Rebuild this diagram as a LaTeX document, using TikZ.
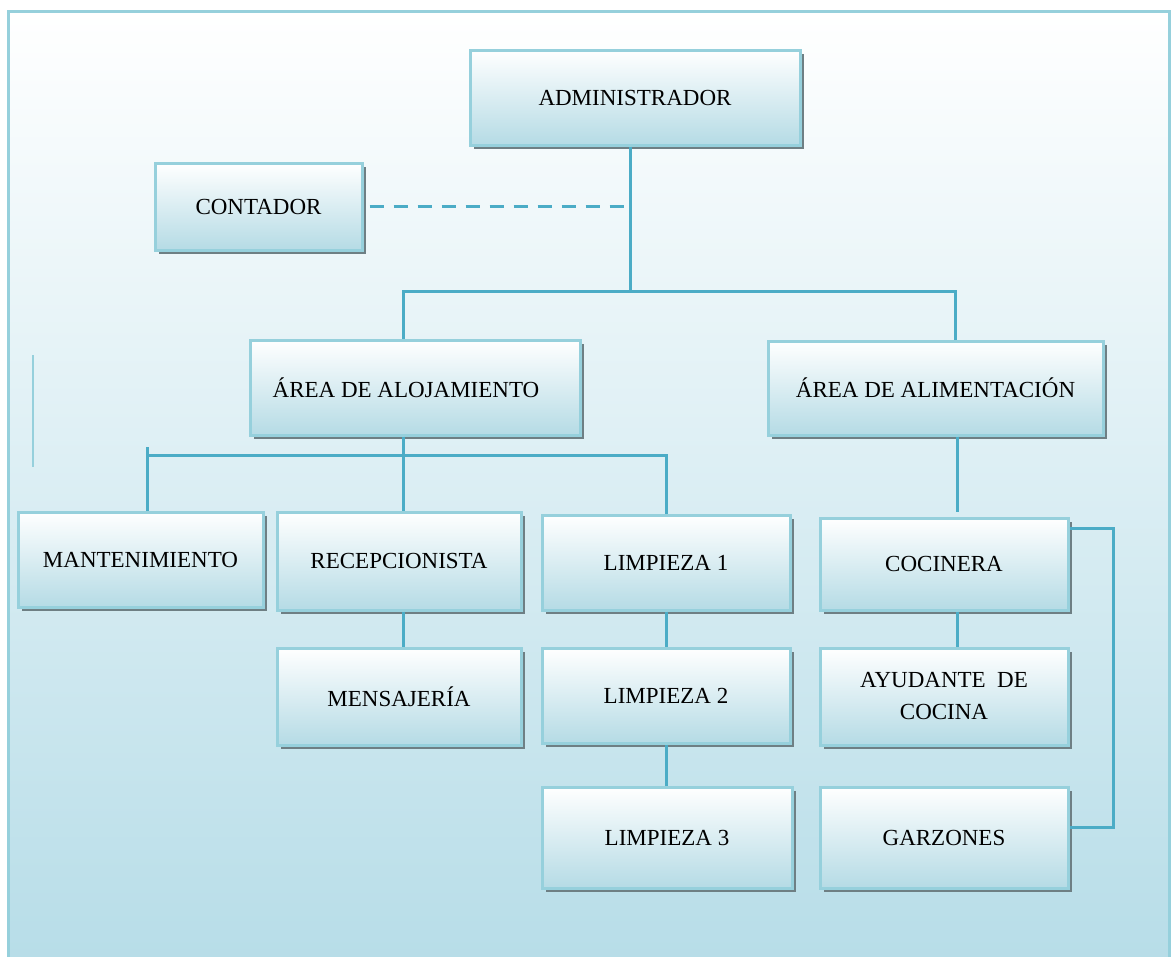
\documentclass[tikz,border=0pt]{standalone}
\usepackage{fontspec}
\setmainfont{Liberation Serif}
\usetikzlibrary{shadows}
\definecolor{framec}{HTML}{96D0DC}
\definecolor{bgbot}{HTML}{B7DDE8}
\definecolor{boxbot}{HTML}{B5DBE5}
\definecolor{linec}{HTML}{4BACC6}
\definecolor{shadc}{HTML}{6E7F84}
\tikzset{
  orgbox/.style={draw=framec, line width=3pt, top color=white, bottom color=boxbot,
    align=center, font=\fontsize{23}{32}\selectfont, text=black,
    drop shadow={shadow xshift=4pt, shadow yshift=-4pt, opacity=1, fill=shadc}},
  conn/.style={draw=linec, line width=3pt},
  dconn/.style={draw=linec, line width=3pt, dash pattern=on 14pt off 10pt},
}
\begin{document}
\begin{tikzpicture}[x=1pt,y=-1pt]
\useasboundingbox (0,0) rectangle (1172,956);
% background frame
\shade[top color=white, bottom color=bgbot] (8,11) rectangle (1169,962);
\draw[framec, line width=3pt] (8,962) -- (8,11) -- (1169,11) -- (1169,962);
% stray thin line
\draw[framec, line width=1.5pt] (33,355) -- (33,467);

% boxes
\node[orgbox, minimum width=330pt, minimum height=95pt] (admin) at (635,97.5) {ADMINISTRADOR};
\node[orgbox, minimum width=207pt, minimum height=87pt] (cont) at (258.5,206.5) {CONTADOR};
\node[orgbox, minimum width=330pt, minimum height=95pt] (alo) at (415,387.5) {ÁREA DE ALOJAMIENTO\hspace*{18pt}};
\node[orgbox, minimum width=335pt, minimum height=94pt] (ali) at (935.5,388) {ÁREA DE ALIMENTACIÓN};
\node[orgbox, minimum width=245pt, minimum height=95pt] (mant) at (140.5,559.5) {MANTENIMIENTO};
\node[orgbox, minimum width=244pt, minimum height=98pt] (rec) at (399,561) {RECEPCIONISTA};
\node[orgbox, minimum width=248pt, minimum height=95pt] (lim1) at (666,562.5) {LIMPIEZA 1};
\node[orgbox, minimum width=248pt, minimum height=92pt] (coc) at (944,564) {COCINERA};
\node[orgbox, minimum width=244pt, minimum height=97pt] (men) at (399,696.5) {MENSAJERÍA};
\node[orgbox, minimum width=248pt, minimum height=95pt] (lim2) at (666,695.5) {LIMPIEZA 2};
\node[orgbox, minimum width=250pt, minimum height=101pt] (lim3) at (667,837.5) {LIMPIEZA 3};
\node[orgbox, minimum width=248pt, minimum height=97pt] (ayu) at (944,696.5) {AYUDANTE\ \ DE\\COCINA};
\node[orgbox, minimum width=248pt, minimum height=101pt] (gar) at (944,837.5) {GARZONES};

% connectors
\coordinate (j1) at (630,291);
\coordinate (jl) at (403,291);
\coordinate (jr) at (955,291);
\draw[conn] (admin.south -| j1) -- (j1);
\draw[conn] (jl |- alo.north) -- (jl) -- (jr) -- (jr |- ali.north);
\draw[dconn] ([xshift=6pt]cont.east) -- (cont.east -| j1);

\coordinate (j2) at (403,455);
\coordinate (j2l) at (147,455);
\coordinate (j2r) at (666,455);
\draw[conn] (j2 |- alo.south) -- (j2) -- (j2 |- rec.north);
\draw[conn] (147,447) -- (j2l |- mant.north);
\draw[conn] (j2l) -- (j2r) -- (j2r |- lim1.north);

\draw[conn] (rec.south -| j2) -- (men.north -| j2);
\draw[conn] (lim1.south -| j2r) -- (lim2.north -| j2r);
\draw[conn] (lim2.south -| j2r) -- (lim3.north -| j2r);

\coordinate (j3) at (957,512);
\draw[conn] (j3 |- ali.south) -- (j3);
\draw[conn] (coc.south -| j3) -- (ayu.north -| j3);

\coordinate (b1) at (1113,528);
\coordinate (b2) at (1113,827);
\draw[conn] (coc.east |- b1) -- (b1) -- (b2) -- (gar.east |- b2);
\end{tikzpicture}
\end{document}
